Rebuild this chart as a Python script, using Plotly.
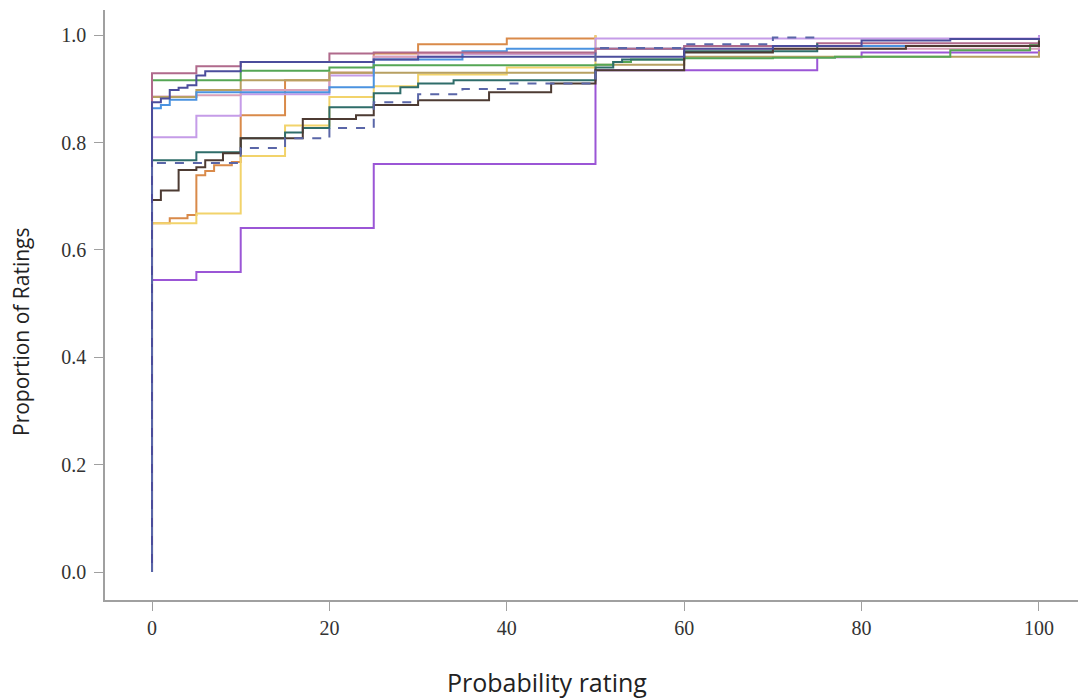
import plotly.graph_objects as go

# Step (ECDF) series: breakpoints (rating, cumulative proportion)
violet_x = [0, 0, 5, 10, 25, 50, 75, 80, 100, 100]
violet_y = [0, 0.544, 0.559, 0.641, 0.760, 0.935, 0.959, 0.968, 0.968, 1.0]

orange_x = [0, 0, 2, 4, 5, 6, 7, 9, 10, 15, 20, 25, 30, 40, 50]
orange_y = [0, 0.650, 0.659, 0.665, 0.739, 0.747, 0.758, 0.764, 0.851, 0.916, 0.930, 0.966, 0.983, 0.994, 1.0]

yellow_x = [0, 0, 5, 10, 15, 20, 25, 30, 40, 50]
yellow_y = [0, 0.650, 0.668, 0.775, 0.832, 0.885, 0.905, 0.927, 0.940, 1.0]

brown_x = [0, 0, 1, 3, 5, 6, 8, 10, 17, 23, 25, 30, 38, 45, 50, 60, 70, 85, 100]
brown_y = [0, 0.693, 0.711, 0.749, 0.754, 0.767, 0.780, 0.808, 0.844, 0.851, 0.870, 0.879, 0.894, 0.910, 0.935, 0.968, 0.975, 0.980, 0.990]

teal_x = [0, 0, 5, 10, 15, 17, 20, 25, 28, 30, 34, 50, 52, 53, 60, 75]
teal_y = [0, 0.767, 0.782, 0.808, 0.819, 0.827, 0.866, 0.892, 0.903, 0.910, 0.916, 0.940, 0.950, 0.955, 0.970, 0.985]

lavender_x = [0, 0, 5, 10, 20, 25, 35, 50, 100, 100]
lavender_y = [0, 0.810, 0.850, 0.890, 0.925, 0.960, 0.965, 0.994, 0.994, 1.0]

blue_x = [0, 0, 1, 2, 5, 20, 25, 35, 40, 60, 100]
blue_y = [0, 0.864, 0.870, 0.880, 0.894, 0.903, 0.955, 0.970, 0.975, 0.980, 0.990]

olive_x = [0, 0, 5, 10, 20, 50, 60, 100]
olive_y = [0, 0.885, 0.898, 0.916, 0.930, 0.945, 0.960, 0.970]

pink_x = [0, 0, 5, 10, 20, 25, 30, 50, 100]
pink_y = [0, 0.886, 0.888, 0.898, 0.930, 0.960, 0.966, 0.975, 0.985]

green_x = [0, 0, 10, 20, 25, 50, 52, 54, 60, 70, 77, 90, 99, 100]
green_y = [0, 0.916, 0.934, 0.940, 0.944, 0.945, 0.950, 0.955, 0.957, 0.958, 0.960, 0.972, 0.983, 0.990]

navy_x = [0, 0, 1, 2, 3, 4, 5, 6, 10, 25, 30, 60, 70, 80, 90, 100]
navy_y = [0, 0.875, 0.882, 0.898, 0.902, 0.907, 0.925, 0.933, 0.950, 0.955, 0.960, 0.975, 0.980, 0.990, 0.993, 0.995]

rose_x = [0, 0, 5, 10, 20, 25, 50, 60, 75, 100]
rose_y = [0, 0.929, 0.942, 0.950, 0.966, 0.968, 0.975, 0.980, 0.985, 0.990]

dashed_x = [0, 0, 10, 15, 20, 25, 30, 35, 40, 50, 60, 70, 75]
dashed_y = [0, 0.762, 0.790, 0.808, 0.827, 0.875, 0.890, 0.900, 0.910, 0.976, 0.983, 0.996, 1.0]

x_ticks = [0, 20, 40, 60, 80, 100]
y_ticks = [0.0, 0.2, 0.4, 0.6, 0.8, 1.0]
y_tick_text = ["0.0", "0.2", "0.4", "0.6", "0.8", "1.0"]

series = [
    ("violet", violet_x, violet_y, "#9b56d6", "solid"),
    ("orange", orange_x, orange_y, "#d98a4a", "solid"),
    ("yellow", yellow_x, yellow_y, "#f2d36b", "solid"),
    ("lavender", lavender_x, lavender_y, "#c59ce8", "solid"),
    ("pink", pink_x, pink_y, "#d9a0b8", "solid"),
    ("olive", olive_x, olive_y, "#b7a062", "solid"),
    ("blue", blue_x, blue_y, "#4b93e0", "solid"),
    ("green", green_x, green_y, "#55a655", "solid"),
    ("rose", rose_x, rose_y, "#b06a8c", "solid"),
    ("teal", teal_x, teal_y, "#2f6d6a", "solid"),
    ("brown", brown_x, brown_y, "#4d3b33", "solid"),
    ("navy", navy_x, navy_y, "#4b4d9c", "solid"),
    ("dashed", dashed_x, dashed_y, "#5a66a8", "dash"),
]

fig = go.Figure()
for name, xs, ys, color, dash in series:
    fig.add_trace(go.Scatter(
        x=xs, y=ys, mode="lines", name=name,
        line=dict(color=color, width=2, shape="hv", dash=dash),
        showlegend=False,
    ))

axis_common = dict(
    showgrid=False, zeroline=False, showline=True,
    linecolor="#a0a0a0", linewidth=1.5,
    ticks="outside", ticklen=9, tickcolor="#a0a0a0", tickwidth=1.2,
    tickfont=dict(family="Liberation Serif", size=20, color="#333333"),
)

fig.update_layout(
    width=1081, height=698,
    margin=dict(l=105, r=3, t=10, b=98),
    paper_bgcolor="white", plot_bgcolor="white",
    xaxis=dict(range=[-5.3, 104.4], tickvals=x_ticks, **axis_common),
    yaxis=dict(range=[-0.052, 1.047], tickvals=y_ticks, ticktext=y_tick_text,
               ticklabelstandoff=4, **axis_common),
    annotations=[
        dict(text="Probability rating", xref="paper", yref="paper",
             x=(547 - 105) / 973, y=-(682 - 600) / 590,
             xanchor="center", yanchor="middle", showarrow=False,
             font=dict(family="Open Sans", size=25, color="#222222")),
        dict(text="Proportion of Ratings", xref="paper", yref="paper",
             x=(21 - 105) / 973, y=(600 - 332) / 590, textangle=-90,
             xanchor="center", yanchor="middle", showarrow=False,
             font=dict(family="Open Sans", size=21, color="#222222")),
    ],
)

fig.write_html("out.html")
